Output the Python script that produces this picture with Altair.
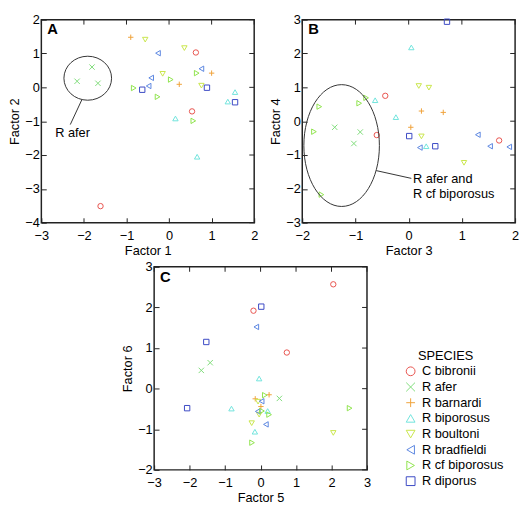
import altair as alt
import pandas as pd

FONT = "Liberation Sans"

SPECIES = ["C bibronii", "R afer", "R barnardi", "R biporosus", "R boultoni",
           "R bradfieldi", "R cf biporosus", "R diporus"]
COLORS = ["#e8534e", "#7fdc7a", "#f0a23a", "#6fe3dc", "#c9e64a",
          "#5b86e0", "#8fe34c", "#3a48c4"]
SHAPES = ["circle", "M -1 -1 L 1 1 M -1 1 L 1 -1", "M -1 0 L 1 0 M 0 -1 L 0 1",
          "triangle-up", "triangle-down", "triangle-left", "triangle-right", "square"]
COUNTS = [3, 3, 3, 4, 4, 4, 5, 3]
pt_species = [s for s, n in zip(SPECIES, COUNTS) for _ in range(n)]

# Panel A: Factor 1 vs Factor 2
f1 = [0.63, 0.54, -1.61, -1.81, -2.16, -1.67, -0.90, 0.24, 1.00,
      0.15, 0.66, 1.55, 1.38, -0.56, 0.36, -0.15, 0.76,
      -0.26, 0.76, -0.42, -0.48, -0.83, -0.27, 0.04, 0.65, 0.57,
      -0.63, 0.89, 1.55]
f2 = [1.03, -0.71, -3.51, 0.60, 0.18, 0.12, 1.48, 0.09, 0.42,
      -0.92, -2.05, -0.14, -0.42, 1.41, 1.16, 0.40, 0.05,
      1.01, 0.55, 0.28, 0.04, -0.02, -0.28, 0.23, 0.42, -0.99,
      -0.07, -0.01, -0.44]
# Panel B: Factor 3 vs Factor 4
f3 = [-0.44, -0.60, 1.70, -1.39, -0.91, -1.03, 0.24, 0.65, 0.04,
      0.05, -0.63, -0.24, 0.33, 0.19, 0.38, 0.24, 1.04,
      1.30, 1.53, 1.89, 0.21, -1.68, -1.78, -0.93, -0.80, -1.64,
      0.72, 0.01, 0.50]
f4 = [0.75, -0.41, -0.57, -0.18, -0.32, -0.66, 0.30, 0.26, -0.18,
      2.18, 0.62, 0.12, -0.74, 1.04, 0.99, -0.45, -1.23,
      -0.40, -0.74, -0.76, -0.78, 0.43, -0.31, 0.53, 0.69, -2.17,
      2.94, -0.44, -0.74]
# Panel C: Factor 5 vs Factor 6
f5 = [2.05, -0.20, 0.74, -1.67, -1.42, 0.53, -0.15, 0.24, 0.01,
      -0.04, -0.82, 0.20, -0.16, -0.07, -0.04, -0.25, 2.05,
      -0.12, 0.03, -0.08, 0.15, 0.12, 0.04, 0.24, -0.24, 2.51,
      0.02, -1.53, -2.07]
f6 = [2.57, 1.92, 0.89, 0.45, 0.64, -0.24, -0.25, -0.15, -0.44,
      0.25, -0.49, -0.55, -1.06, -0.32, -0.64, -0.85, -1.09,
      1.52, -0.31, -0.56, -0.88, -0.16, -0.55, -0.64, -1.33, -0.48,
      2.02, 1.15, -0.48]

A_XTICKS = [-3, -2, -1, 0, 1, 2]
A_YTICKS = [-4, -3, -2, -1, 0, 1, 2]
B_XTICKS = [-2, -1, 0, 1, 2]
B_YTICKS = [-3, -2, -1, 0, 1, 2, 3]
C_XTICKS = [-3, -2, -1, 0, 1, 2, 3]
C_YTICKS = [-2, -1, 0, 1, 2, 3]

W, H = 217, 207
LINE = "#333333"
TICK = "#222222"


def ellipse_path(rx, ry):
    m = max(rx, ry)
    a, b = rx / m, ry / m
    p = (f"M {-a:.4f} 0 A {a:.4f} {b:.4f} 0 1 1 {a:.4f} 0 "
         f"A {a:.4f} {b:.4f} 0 1 1 {-a:.4f} 0 Z")
    return p, (2 * m) ** 2


def panel(xs_vals, ys_vals, xdom, ydom, xticks, yticks, xtitle, ytitle, letter,
          legend=None, extras=()):
    df = pd.DataFrame({"species": pt_species, "x": xs_vals, "y": ys_vals})
    xs = alt.Scale(domain=xdom, nice=False, zero=False)
    ys = alt.Scale(domain=ydom, nice=False, zero=False)
    xax = alt.Axis(values=xticks, title=xtitle, orient="bottom", offset=-5, tickSize=5,
                   domain=False, grid=False, labelFlush=False, labelPadding=7,
                   titlePadding=2, format="d")
    yax = alt.Axis(values=yticks, title=ytitle, orient="left", offset=-5, tickSize=5,
                   domain=False, grid=False, labelPadding=2, titlePadding=3, format="d")
    pts = alt.Chart(df).mark_point(size=30, strokeWidth=1, filled=False, opacity=1).encode(
        x=alt.X("x:Q", scale=xs, axis=xax),
        y=alt.Y("y:Q", scale=ys, axis=yax),
        color=alt.Color("species:N", scale=alt.Scale(domain=SPECIES, range=COLORS), legend=legend),
        shape=alt.Shape("species:N", scale=alt.Scale(domain=SPECIES, range=SHAPES), legend=legend),
    )
    # inward ticks on the top and right frame edges
    top_ticks = alt.Chart(pd.DataFrame({"v": xticks})).mark_rule(color=TICK, strokeWidth=1).encode(
        x=alt.X("v:Q", scale=xs, axis=None), y=alt.value(0), y2=alt.value(5))
    right_ticks = alt.Chart(pd.DataFrame({"v": yticks})).mark_rule(color=TICK, strokeWidth=1).encode(
        y=alt.Y("v:Q", scale=ys, axis=None), x=alt.value(W), x2=alt.value(W - 5))
    lt = alt.Chart(pd.DataFrame({"t": [letter]})).mark_text(
        align="left", baseline="top", fontSize=15, fontWeight="bold", font=FONT, color="black"
    ).encode(x=alt.value(6), y=alt.value(3), text="t:N")
    layers = [pts, top_ticks, right_ticks, lt]
    for e in extras:
        layers.append(e(xs, ys))
    return alt.layer(*layers).resolve_axis(x="independent", y="independent").properties(width=W, height=H)


def ellipse_layer(cx, cy, rx, ry, xspan, yspan):
    def f(xs, ys):
        path, size = ellipse_path(rx * W / xspan, ry * H / yspan)
        return alt.Chart(pd.DataFrame({"x": [cx], "y": [cy]})).mark_point(
            shape=path, size=size, filled=False, stroke=LINE, strokeWidth=1, opacity=1
        ).encode(x=alt.X("x:Q", scale=xs, axis=None), y=alt.Y("y:Q", scale=ys, axis=None))
    return f


def rule_layer(x1, y1, x2, y2):
    def f(xs, ys):
        return alt.Chart(pd.DataFrame({"x": [x1], "y": [y1], "x2": [x2], "y2": [y2]})).mark_rule(
            color=LINE, strokeWidth=1
        ).encode(x=alt.X("x:Q", scale=xs, axis=None), y=alt.Y("y:Q", scale=ys, axis=None),
                 x2="x2:Q", y2="y2:Q")
    return f


def text_layer(xv, yv, texts):
    def f(xs, ys):
        return alt.Chart(pd.DataFrame({"x": xv, "y": yv, "t": texts})).mark_text(
            align="left", baseline="alphabetic", fontSize=13, font=FONT, color="black"
        ).encode(x=alt.X("x:Q", scale=xs, axis=None), y=alt.Y("y:Q", scale=ys, axis=None), text="t:N")
    return f


A = panel(f1, f2, [-3, 2], [-4, 2], A_XTICKS, A_YTICKS, "Factor 1", "Factor 2", "A",
          extras=[ellipse_layer(-1.91, 0.27, 0.56, 0.65, 5, 6),
                  rule_layer(-2.05, -0.37, -2.32, -1.10),
                  text_layer([-2.675], [-1.47], ["R afer"])])
B = panel(f3, f4, [-2, 2], [-3, 3], B_XTICKS, B_YTICKS, "Factor 3", "Factor 4", "B",
          extras=[ellipse_layer(-1.26, -0.72, 0.71, 1.80, 4, 6),
                  rule_layer(-0.61, -1.46, 0.05, -1.69),
                  text_layer([0.08, 0.08], [-1.82, -2.27], ["R afer and", "R cf biporosus"])])

LEG_X = W + 38
LEG_Y = 100
leg = alt.Legend(title=None, orient="none", legendX=LEG_X, legendY=LEG_Y, padding=0,
                 symbolSize=80, symbolStrokeWidth=1, labelFontSize=13, labelFont=FONT,
                 labelColor="black", rowPadding=2, labelOffset=5)


def species_title(xs, ys):
    return alt.Chart(pd.DataFrame({"t": ["SPECIES"]})).mark_text(
        align="left", baseline="alphabetic", fontSize=13, font=FONT, color="black"
    ).encode(x=alt.value(LEG_X + 14), y=alt.value(LEG_Y - 5), text="t:N")


C = panel(f5, f6, [-3, 3], [-2, 3], C_XTICKS, C_YTICKS, "Factor 5", "Factor 6", "C",
          legend=leg, extras=[species_title])

spacer = alt.Chart(pd.DataFrame({"v": [0]})).mark_point(opacity=0, size=1).encode(
    x=alt.value(0), y=alt.value(0)
).properties(width=80, height=10, view=alt.ViewBackground(stroke="transparent"))

top = alt.hconcat(A, B, spacing=10).resolve_scale(color="independent", shape="independent")
bottom = alt.hconcat(spacer, C, spacing=0).resolve_scale(color="independent", shape="independent")

chart = alt.vconcat(top, bottom, spacing=2).resolve_scale(
    color="independent", shape="independent"
).properties(padding=0, background="white").configure_view(
    stroke="#222222", strokeWidth=1.5
).configure_axis(
    labelFont=FONT, titleFont=FONT, labelFontSize=13, titleFontSize=13,
    titleFontWeight="normal", labelColor="black", titleColor="black",
    tickColor=TICK, tickWidth=1
)

chart.save("out.html", embed_options={"renderer": "svg", "actions": False})
